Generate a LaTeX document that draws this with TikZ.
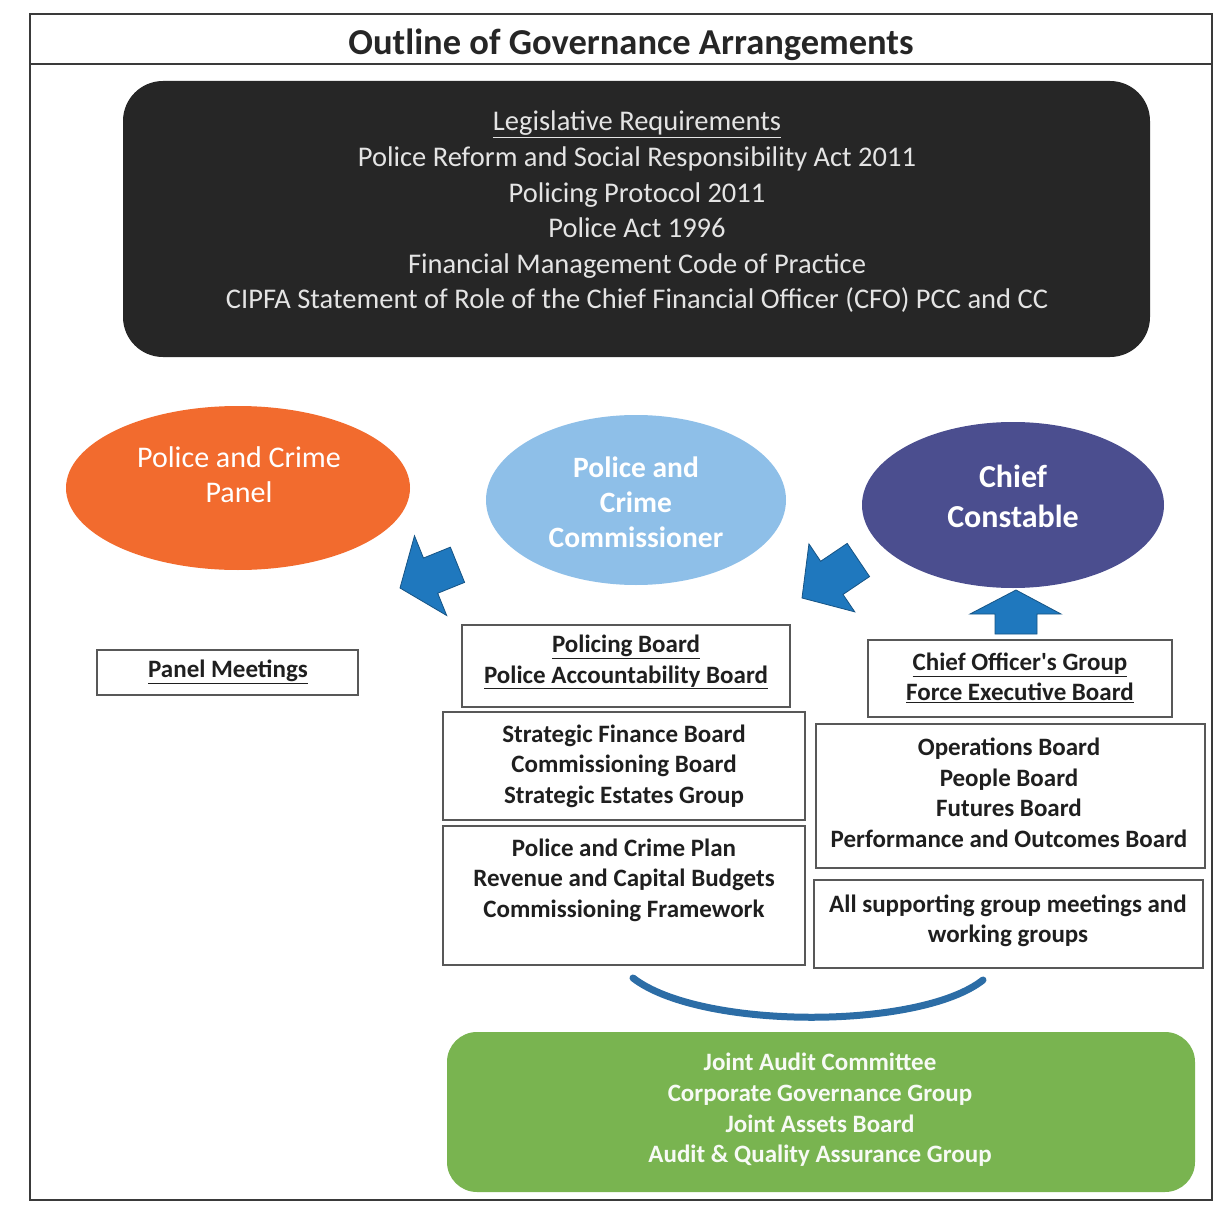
\documentclass[tikz,border=0pt]{standalone}
\usepackage{fontspec}
\setmainfont{Carlito}
\usetikzlibrary{shapes.geometric}
\definecolor{blk}{HTML}{262626}
\definecolor{legtxt}{HTML}{E4E4E4}
\definecolor{orng}{HTML}{F26B2E}
\definecolor{lblue}{HTML}{8EBFE8}
\definecolor{purp}{HTML}{4B4E8F}
\definecolor{arrblue}{HTML}{1F78BE}
\definecolor{curveblue}{HTML}{2C6DA6}
\definecolor{grn}{HTML}{79B450}
\definecolor{frame}{HTML}{3A3A3A}
\tikzset{
  gbox/.style={rectangle, draw=frame!85, line width=1.6pt, fill=white, inner sep=0pt},
  btxt/.style={align=center, text=black!88, font=\fontsize{25}{30.5}\selectfont\bfseries},
  elltxt/.style={align=center, text=white},
  barrow/.style={fill=arrblue, draw=arrblue!70!black, line width=0.8pt, line join=miter},
  linkcurve/.style={draw=curveblue, line width=7pt, line cap=round},
}
\begin{document}
\begin{tikzpicture}[x=1pt,y=-1pt]
\useasboundingbox (0,0) rectangle (1227,1209);
\fill[white] (0,0) rectangle (1227,1209);
% outer frame
\draw[frame, line width=2pt] (30,14) rectangle (1212,1200);
\draw[frame, line width=2pt] (30,64) -- (1212,64);
\node[font=\fontsize{36.5}{40}\selectfont\bfseries, text=black!85] (title) at (631,45) {Outline of Governance Arrangements};
% legislative box
\node[fill=blk, rounded corners=40pt, minimum width=1027pt, minimum height=276pt, inner sep=0pt] (legis) at (636.5,219) {};
\node[align=center, text=legtxt, font=\fontsize{28.5}{35.6}\selectfont] (legistext) at (637,212)
 {\underline{Legislative Requirements}\\
  Police Reform and Social Responsibility Act 2011\\
  Policing Protocol 2011\\
  Police Act 1996\\
  Financial Management Code of Practice\\
  CIPFA Statement of Role of the Chief Financial Officer (CFO) PCC and CC};
% ellipses
\node[ellipse, fill=orng, minimum width=344pt, minimum height=164pt, inner sep=0pt] (pcp) at (238,488) {};
\node[elltxt, font=\fontsize{30}{35}\selectfont] (pcptext) at (239,475) {Police and Crime\\Panel};
\node[ellipse, fill=lblue, minimum width=300pt, minimum height=170pt, inner sep=0pt] (pcc) at (636,500) {};
\node[elltxt, font=\fontsize{29.5}{35}\selectfont\bfseries] (pcctext) at (636,502) {Police and\\Crime\\Commissioner};
\node[ellipse, fill=purp, minimum width=302pt, minimum height=166pt, inner sep=0pt] (cc) at (1013,505) {};
\node[elltxt, font=\fontsize{32}{40}\selectfont\bfseries] (cctext) at (1013,496) {Chief\\Constable};
% block arrows
\fill[barrow, shift={(400,588)}, rotate=202] (0,0) -- (-33,-43) -- (-33,-19) -- (-62,-19) -- (-62,19) -- (-33,19) -- (-33,43) -- cycle;
\fill[barrow, shift={(802,598)}, rotate=214] (0,0) -- (-36,-41) -- (-36,-20) -- (-68,-20) -- (-68,20) -- (-36,20) -- (-36,41) -- cycle;
\fill[barrow] (1016,590) -- (1061,614) -- (1037,614) -- (1037,634) -- (995,634) -- (995,614) -- (970,614) -- cycle;
% boxes
\node[gbox, minimum width=261pt, minimum height=45pt] (panel) at (227.5,672.5) {};
\node[btxt] (paneltext) at (228,672) {\underline{Panel Meetings}};
\node[gbox, minimum width=328pt, minimum height=82pt] (pb) at (626,666) {};
\node[btxt] (pbtext) at (626,662) {\underline{Policing Board}\\\underline{Police Accountability Board}};
\node[gbox, minimum width=362pt, minimum height=108pt] (sfb) at (624,766) {};
\node[btxt] (sfbtext) at (624,766) {Strategic Finance Board\\Commissioning Board\\Strategic Estates Group};
\node[gbox, minimum width=362pt, minimum height=139pt] (plan) at (624,895.5) {};
\node[btxt] (plantext) at (624,880) {Police and Crime Plan\\Revenue and Capital Budgets\\Commissioning Framework};
\node[gbox, minimum width=304pt, minimum height=77pt] (cog) at (1020,678.5) {};
\node[btxt] (cogtext) at (1020,678) {\underline{Chief Officer\textquotesingle s Group}\\\underline{Force Executive Board}};
\node[gbox, minimum width=389pt, minimum height=144pt] (ops) at (1010.5,796) {};
\node[btxt] (opstext) at (1009,793) {Operations Board\\People Board\\Futures Board\\Performance and Outcomes Board};
\node[gbox, minimum width=389pt, minimum height=88pt] (allsup) at (1008.5,924) {};
\node[btxt] (allsuptext) at (1008,921) {All supporting group meetings and\\working groups};
% curve
\coordinate (cl) at (633,978);
\coordinate (cr) at (983,980);
\draw[linkcurve] (cl) .. controls (700,1030) and (920,1030) .. (cr);
% green box
\node[fill=grn, rounded corners=30pt, minimum width=748pt, minimum height=160pt, inner sep=0pt] (audit) at (821,1112) {};
\node[align=center, text=white!94!grn, font=\fontsize{25}{30.7}\selectfont\bfseries] (audittext) at (820,1110)
 {Joint Audit Committee\\Corporate Governance Group\\Joint Assets Board\\Audit \& Quality Assurance Group};
\end{tikzpicture}
\end{document}
